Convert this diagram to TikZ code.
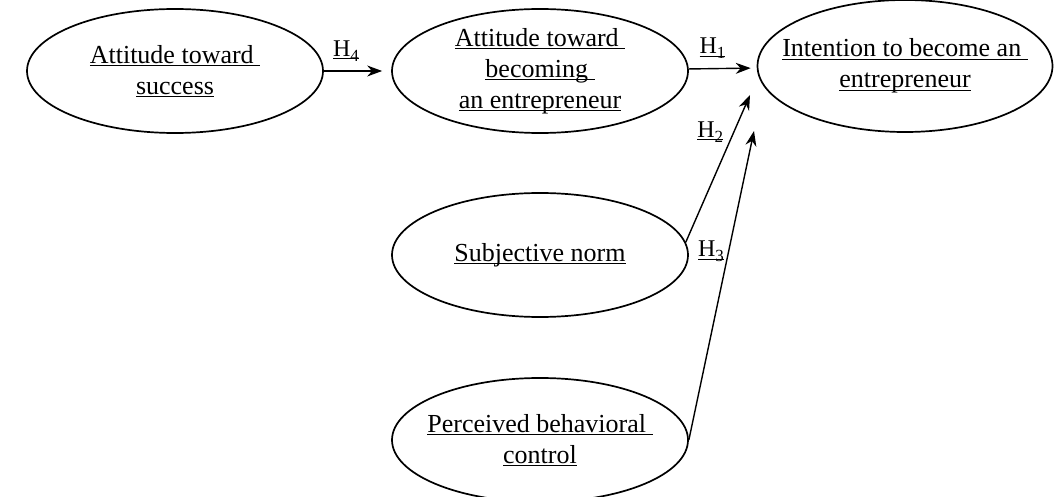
\documentclass[tikz,border=0pt]{standalone}
\usepackage{fontspec}
\setmainfont{Liberation Serif}
\usetikzlibrary{shapes.geometric,arrows.meta}
\newcommand{\uln}[1]{\setbox0\hbox{#1}\rlap{\rule[-3pt]{\wd0}{1.1pt}}\box0}
\newcommand{\hyplab}[1]{\uln{H\raisebox{-5pt}{\fontsize{17}{17}\selectfont #1}}}

\tikzset{construct/.style={ellipse,draw,line width=1.7pt,minimum width=296pt,minimum height=124pt,
  inner xsep=-30pt,inner ysep=0pt,align=center,font=\fontsize{26}{31}\selectfont}}
\tikzstyle{hyp}=[line width=1.4pt,-{Stealth[length=15pt,width=11pt]}]
\tikzstyle{hlabel}=[font=\fontsize{24}{26}\selectfont,inner sep=3pt]

\begin{document}
\begin{tikzpicture}[x=1pt,y=-1pt]
  \useasboundingbox (0,0) rectangle (1055,497);

  \node [construct] (success) at (175,71) {\uln{Attitude toward\ }\\\uln{success}};
  \node [construct] (becoming) at (540,71) {\uln{Attitude toward\ }\\\uln{becoming\ }\\\uln{an entrepreneur}};
  \node [construct,minimum width=295pt,minimum height=132pt] (intention) at (905,66)
    {\uln{Intention to become an\ }\\\uln{entrepreneur}};
  \node [construct] (subjnorm) at (540,255) {\uln{Subjective norm}};
  \node [construct] (control) at (540,440) {\uln{Perceived behavioral\ }\\\uln{control}};

  \coordinate (h2end) at (750,95);
  \coordinate (h3end) at (754,131);

  \draw [hyp,shorten >=9pt] (success) -- (becoming)
    node [hlabel,pos=0.33,above=6pt] {\hyplab{4}};
  \draw [hyp,shorten >=6pt] (becoming) -- (intention)
    node [hlabel,pos=0.35,above=6pt] {\hyplab{1}};
  \draw [hyp] (subjnorm.5) -- (h2end)
    node [hlabel,pos=0.75,left=7pt] {\hyplab{2}};
  \draw [hyp] (control.east) -- (h3end)
    node [hlabel,pos=0.61,left=1pt] {\hyplab{3}};
\end{tikzpicture}
\end{document}
